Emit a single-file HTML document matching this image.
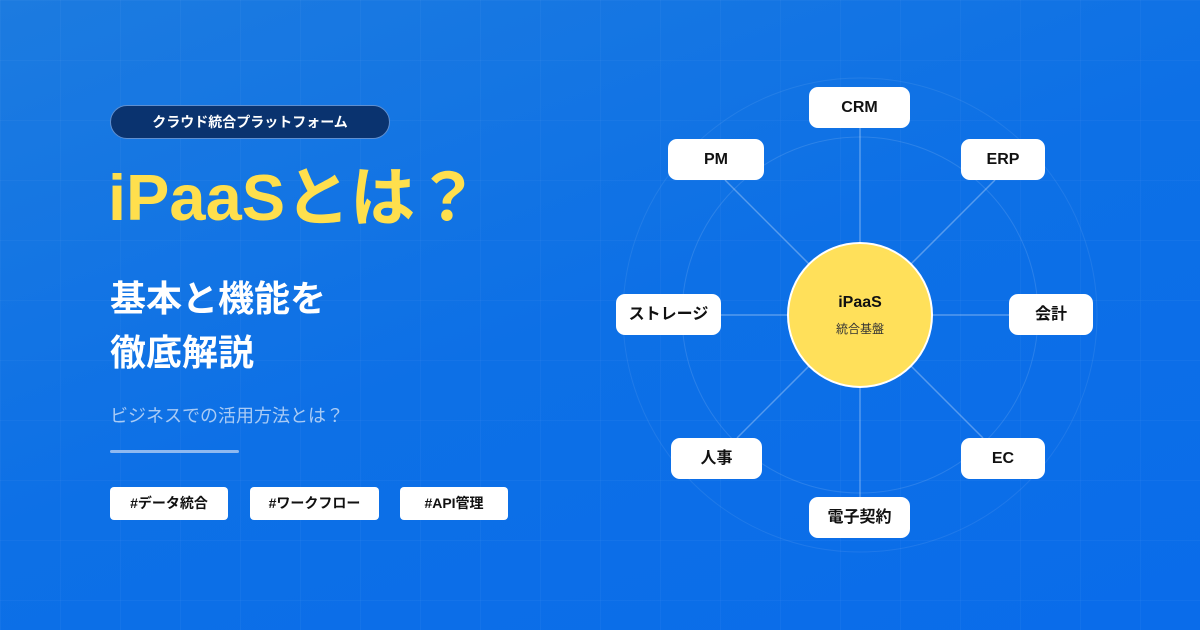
<!DOCTYPE html>
<html><head><meta charset="utf-8"><style>
body{margin:0;width:1200px;height:630px;overflow:hidden;font-family:"Liberation Sans","Noto Sans CJK JP",sans-serif;}
.bg{position:absolute;left:0;top:0;width:1200px;height:630px;
background-image:linear-gradient(rgba(255,255,255,0.03) 1px,transparent 1px),linear-gradient(90deg,rgba(255,255,255,0.03) 1px,transparent 1px),linear-gradient(160deg,#1c7be0 0%,#0d70e6 50%,#0a6cea 100%);background-size:60px 60px,60px 60px,100% 100%;}
.a{position:absolute;}
.pill{left:110px;top:105px;width:278px;height:32px;border-radius:17px;background:#0a336f;border:1px solid #5f8fd0;color:#fff;font-size:14px;font-weight:bold;text-align:center;line-height:32px;}
.title{left:108px;top:160px;font-size:65px;font-weight:bold;color:#ffdf4d;line-height:76px;white-space:nowrap;}
.sub{left:110px;top:272px;font-size:36px;font-weight:bold;color:#fff;line-height:54px;}
.q{left:110px;top:402px;font-size:18px;color:#a9cbf5;}
.div{left:110px;top:450px;width:129px;height:3px;background:#8fb9f0;border-radius:2px;}
.tag{top:487px;height:33px;background:#fff;border-radius:4px;font-size:14px;font-weight:bold;color:#111;text-align:center;line-height:33px;}
.box{background:#fff;border-radius:9px;font-size:16px;font-weight:bold;color:#111;text-align:center;line-height:41px;height:41px;}
</style></head><body>
<div class="bg"></div>
<svg class="a" style="left:0;top:0" width="1200" height="630">
<circle cx="860" cy="315" r="178" fill="none" stroke="rgba(255,255,255,0.12)" stroke-width="1"/>
<circle cx="860" cy="315" r="237" fill="none" stroke="rgba(255,255,255,0.08)" stroke-width="1"/>
<g stroke="rgba(255,255,255,0.3)" stroke-width="1.5">
<line x1="860" y1="315" x2="860" y2="108"/>
<line x1="860" y1="315" x2="860" y2="518"/>
<line x1="860" y1="315" x2="668" y2="315"/>
<line x1="860" y1="315" x2="1050" y2="315"/>
<line x1="860" y1="315" x2="725" y2="180"/>
<line x1="860" y1="315" x2="995" y2="180"/>
<line x1="860" y1="315" x2="737" y2="438"/>
<line x1="860" y1="315" x2="983" y2="438"/>
</g>
<circle cx="860" cy="315" r="72" fill="#ffe05a" stroke="#fff" stroke-width="2"/>
<text x="860" y="307" text-anchor="middle" font-family="Liberation Sans,sans-serif" font-weight="bold" font-size="16" fill="#111">iPaaS</text>
<text x="860" y="333" text-anchor="middle" font-family="Liberation Sans,Noto Sans CJK JP,sans-serif" font-size="12" fill="#333">統合基盤</text>
</svg>
<div class="a pill">クラウド統合プラットフォーム</div>
<div class="a title">iPaaSとは？</div>
<div class="a sub">基本と機能を<br>徹底解説</div>
<div class="a q">ビジネスでの活用方法とは？</div>
<div class="a div"></div>
<div class="a tag" style="left:110px;width:118px">#データ統合</div>
<div class="a tag" style="left:250px;width:129px">#ワークフロー</div>
<div class="a tag" style="left:400px;width:108px">#API管理</div>
<div class="a box" style="left:809px;top:87px;width:101px">CRM</div>
<div class="a box" style="left:668px;top:139px;width:96px">PM</div>
<div class="a box" style="left:961px;top:139px;width:84px">ERP</div>
<div class="a box" style="left:616px;top:294px;width:105px">ストレージ</div>
<div class="a box" style="left:1009px;top:294px;width:84px">会計</div>
<div class="a box" style="left:671px;top:438px;width:91px">人事</div>
<div class="a box" style="left:961px;top:438px;width:84px">EC</div>
<div class="a box" style="left:809px;top:497px;width:101px">電子契約</div>
</body></html>
